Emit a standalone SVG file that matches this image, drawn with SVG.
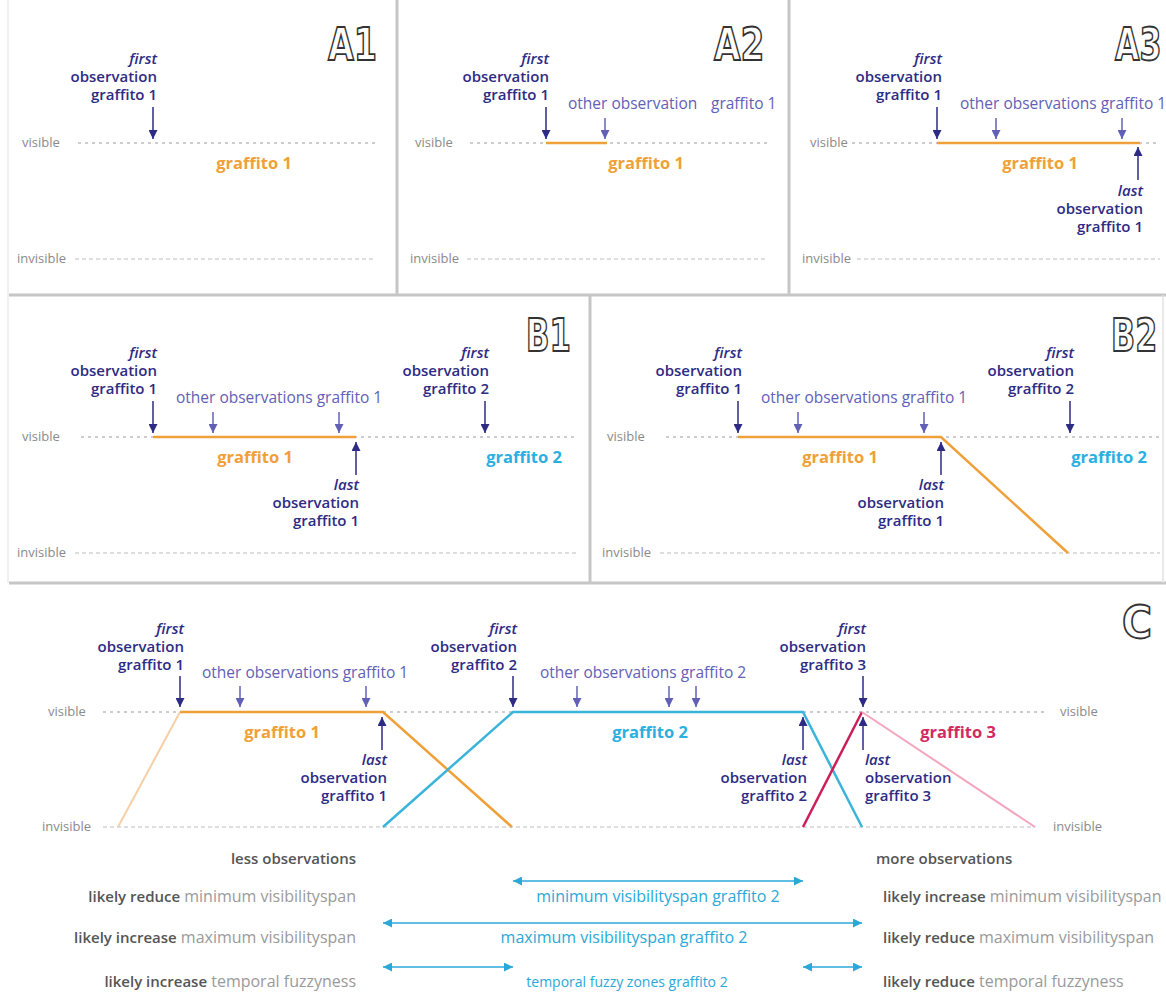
<svg xmlns="http://www.w3.org/2000/svg" width="1166" height="1001" viewBox="0 0 1166 1001">
<style>
text{font-family:"Open Sans","Noto Sans",sans-serif}
.nv{fill:#2e2b84;font-size:15px;font-weight:600}
.it{font-style:italic}
.r{text-anchor:end}
.m{text-anchor:middle}
.ot{fill:#6260b6;font-size:15.5px}
.lb{fill:#8a8a8a;font-size:13px}
.go{fill:#f0a038;font-size:16.5px;font-weight:700}
.gc{fill:#2aafe0;font-size:16.5px;font-weight:700}
.gr{fill:#d22a62;font-size:16.5px;font-weight:700}
.big{font-family:"DejaVu Sans",sans-serif;font-weight:700;font-size:44px;fill:#fff;stroke:#333;stroke-width:1.8}
.vis{stroke:#bdbdbd;stroke-width:1.5;stroke-dasharray:3 4;fill:none}
.inv{stroke:#bdbdbd;stroke-width:1.2;stroke-dasharray:4 3;fill:none}
.sep{stroke:#c6c6c6;stroke-width:3;fill:none}
.fa{stroke:#2e2b84;stroke-width:1.5;marker-end:url(#an)}
.oa{stroke:#6260b6;stroke-width:1.5;marker-end:url(#ao)}
.lo{stroke:#f0a038;stroke-width:2.5;fill:none}
.lc{stroke:#3ab4da;stroke-width:2.5;fill:none}
.bt{fill:#9a9a9a;font-size:16px}
.bb{fill:#555;font-weight:600;font-size:15px}
.ct{fill:#2aa8d8;font-size:16px}
.ca{stroke:#2aa8d8;stroke-width:1.5;marker-start:url(#ac);marker-end:url(#ac)}
</style>
<defs>
<marker id="an" viewBox="0 0 10 10" refX="10" refY="5" markerWidth="9" markerHeight="9" markerUnits="userSpaceOnUse" orient="auto"><path d="M0,0 L10,5 L0,10 z" fill="#2e2b84"/></marker>
<marker id="ao" viewBox="0 0 10 10" refX="10" refY="5" markerWidth="9" markerHeight="9" markerUnits="userSpaceOnUse" orient="auto"><path d="M0,0 L10,5 L0,10 z" fill="#6260b6"/></marker>
<marker id="ac" viewBox="0 0 10 10" refX="10" refY="5" markerWidth="9" markerHeight="9" markerUnits="userSpaceOnUse" orient="auto-start-reverse"><path d="M0,0 L10,5 L0,10 z" fill="#2aa8d8"/></marker>
</defs>
<rect width="1166" height="1001" fill="#fff"/>

<g id="frames">
<line class="sep" x1="9" y1="295" x2="1166" y2="295"/>
<line class="sep" x1="9" y1="583" x2="1166" y2="583"/>
<line class="sep" x1="397" y1="0" x2="397" y2="295"/>
<line class="sep" x1="789" y1="0" x2="789" y2="295"/>
<line class="sep" x1="590" y1="295" x2="590" y2="583"/>
<line x1="8" y1="0" x2="8" y2="583" stroke="#ececec" stroke-width="1.5"/>
<line x1="1163" y1="295" x2="1163" y2="583" stroke="#e2e2e2" stroke-width="1.5"/>
</g>

<g id="panel-A1">
<text class="big" transform="translate(328,60) scale(0.76,1)">A1</text>
<text class="lb" x="22" y="147">visible</text>
<text class="lb" x="17" y="263">invisible</text>
<line class="vis" x1="78" y1="143" x2="375" y2="143"/>
<line class="inv" x1="75" y1="259" x2="375" y2="259"/>
<text class="nv r it" x="157" y="64">first</text>
<text class="nv r" x="157" y="82">observation</text>
<text class="nv r" x="157" y="100">graffito 1</text>
<line class="fa" x1="153" y1="107" x2="153" y2="139"/>
<text class="go m" x="254" y="169">graffito 1</text>
</g>

<g id="panel-A2">
<text class="big" transform="translate(714,60) scale(0.78,1)">A2</text>
<text class="lb" x="415" y="147">visible</text>
<text class="lb" x="410" y="263">invisible</text>
<line class="vis" x1="470" y1="143" x2="767" y2="143"/>
<line class="inv" x1="467" y1="259" x2="767" y2="259"/>
<line class="lo" x1="546" y1="143" x2="607" y2="143"/>
<text class="nv r it" x="549" y="64">first</text>
<text class="nv r" x="549" y="82">observation</text>
<text class="nv r" x="549" y="100">graffito 1</text>
<line class="fa" x1="546" y1="107" x2="546" y2="139"/>
<text class="ot" x="568" y="109">other observation</text>
<text class="ot" x="711" y="109">graffito 1</text>
<line class="oa" x1="605" y1="118" x2="605" y2="139"/>
<text class="go m" x="646" y="169">graffito 1</text>
</g>

<g id="panel-A3">
<text class="big" transform="translate(1115,60) scale(0.72,1)">A3</text>
<text class="lb" x="810" y="147">visible</text>
<text class="lb" x="802" y="263">invisible</text>
<line class="vis" x1="852" y1="143" x2="1160" y2="143"/>
<line class="inv" x1="857" y1="259" x2="1160" y2="259"/>
<line class="lo" x1="937" y1="143" x2="1140" y2="143"/>
<text class="nv r it" x="942" y="64">first</text>
<text class="nv r" x="942" y="82">observation</text>
<text class="nv r" x="942" y="100">graffito 1</text>
<line class="fa" x1="937" y1="107" x2="937" y2="139"/>
<text class="ot" x="960" y="109">other observations graffito 1</text>
<line class="oa" x1="996" y1="118" x2="996" y2="139"/>
<line class="oa" x1="1122" y1="118" x2="1122" y2="139"/>
<line class="fa" x1="1138" y1="180" x2="1138" y2="147"/>
<text class="nv r it" x="1143" y="196">last</text>
<text class="nv r" x="1143" y="214">observation</text>
<text class="nv r" x="1143" y="232">graffito 1</text>
<text class="go m" x="1040" y="169">graffito 1</text>
</g>

<g id="panel-B1">
<text class="big" transform="translate(526,351) scale(0.7,1)">B1</text>
<text class="lb" x="22" y="441">visible</text>
<text class="lb" x="17" y="557">invisible</text>
<line class="vis" x1="81" y1="437" x2="576" y2="437"/>
<line class="inv" x1="75" y1="553" x2="576" y2="553"/>
<line class="lo" x1="153" y1="437" x2="356" y2="437"/>
<text class="nv r it" x="157" y="358">first</text>
<text class="nv r" x="157" y="376">observation</text>
<text class="nv r" x="157" y="394">graffito 1</text>
<line class="fa" x1="153" y1="401" x2="153" y2="433"/>
<text class="ot" x="176" y="403">other observations graffito 1</text>
<line class="oa" x1="213" y1="412" x2="213" y2="433"/>
<line class="oa" x1="339" y1="412" x2="339" y2="433"/>
<text class="go m" x="255" y="463">graffito 1</text>
<line class="fa" x1="356" y1="475" x2="356" y2="442"/>
<text class="nv r it" x="359" y="490">last</text>
<text class="nv r" x="359" y="508">observation</text>
<text class="nv r" x="359" y="526">graffito 1</text>
<text class="nv r it" x="489" y="358">first</text>
<text class="nv r" x="489" y="376">observation</text>
<text class="nv r" x="489" y="394">graffito 2</text>
<line class="fa" x1="485" y1="401" x2="485" y2="433"/>
<text class="gc m" x="524" y="463">graffito 2</text>
</g>

<g id="panel-B2">
<text class="big" transform="translate(1111,351) scale(0.72,1)">B2</text>
<text class="lb" x="607" y="441">visible</text>
<text class="lb" x="602" y="557">invisible</text>
<line class="vis" x1="666" y1="437" x2="1160" y2="437"/>
<line class="inv" x1="660" y1="553" x2="1160" y2="553"/>
<polyline class="lo" points="738,437 941,437 1068,553"/>
<text class="nv r it" x="742" y="358">first</text>
<text class="nv r" x="742" y="376">observation</text>
<text class="nv r" x="742" y="394">graffito 1</text>
<line class="fa" x1="738" y1="401" x2="738" y2="433"/>
<text class="ot" x="761" y="403">other observations graffito 1</text>
<line class="oa" x1="798" y1="412" x2="798" y2="433"/>
<line class="oa" x1="924" y1="412" x2="924" y2="433"/>
<text class="go m" x="840" y="463">graffito 1</text>
<line class="fa" x1="941" y1="475" x2="941" y2="442"/>
<text class="nv r it" x="944" y="490">last</text>
<text class="nv r" x="944" y="508">observation</text>
<text class="nv r" x="944" y="526">graffito 1</text>
<text class="nv r it" x="1074" y="358">first</text>
<text class="nv r" x="1074" y="376">observation</text>
<text class="nv r" x="1074" y="394">graffito 2</text>
<line class="fa" x1="1070" y1="401" x2="1070" y2="433"/>
<text class="gc m" x="1109" y="463">graffito 2</text>
</g>

<g id="panel-C">
<text class="big" transform="translate(1122,638) scale(0.93,1)">C</text>
<text class="lb" x="48" y="716">visible</text>
<text class="lb" x="42" y="831">invisible</text>
<text class="lb" x="1060" y="716">visible</text>
<text class="lb" x="1053" y="831">invisible</text>
<line class="vis" x1="103" y1="712" x2="1048" y2="712"/>
<line class="inv" x1="103" y1="827" x2="1035" y2="827"/>
</g>

<g id="connectors">
<line x1="118" y1="827" x2="180" y2="712" stroke="#f6cfa6" stroke-width="2"/>
<polyline class="lo" points="180,712 383,712 512,827"/>
<polyline class="lc" points="383,827 513,712 803,712 862,827"/>
<line x1="803" y1="827" x2="862" y2="712" stroke="#cc1f5a" stroke-width="2.5"/>
<line x1="862" y1="712" x2="1035" y2="827" stroke="#f2a6bd" stroke-width="2"/>
</g>

<g id="graffito1-C">
<text class="nv r it" x="184" y="634">first</text>
<text class="nv r" x="184" y="652">observation</text>
<text class="nv r" x="184" y="670">graffito 1</text>
<line class="fa" x1="180" y1="676" x2="180" y2="707"/>
<text class="ot" x="202" y="678">other observations graffito 1</text>
<line class="oa" x1="240" y1="686" x2="240" y2="707"/>
<line class="oa" x1="366" y1="686" x2="366" y2="707"/>
<text class="go m" x="282" y="738">graffito 1</text>
<line class="fa" x1="382" y1="750" x2="382" y2="717"/>
<text class="nv r it" x="387" y="765">last</text>
<text class="nv r" x="387" y="783">observation</text>
<text class="nv r" x="387" y="801">graffito 1</text>
</g>

<g id="graffito2-C">
<text class="nv r it" x="517" y="634">first</text>
<text class="nv r" x="517" y="652">observation</text>
<text class="nv r" x="517" y="670">graffito 2</text>
<line class="fa" x1="513" y1="676" x2="513" y2="707"/>
<text class="ot" x="540" y="678">other observations graffito 2</text>
<line class="oa" x1="577" y1="686" x2="577" y2="707"/>
<line class="oa" x1="669" y1="686" x2="669" y2="707"/>
<line class="oa" x1="696" y1="686" x2="696" y2="707"/>
<text class="gc m" x="650" y="738">graffito 2</text>
<line class="fa" x1="803" y1="750" x2="803" y2="717"/>
<text class="nv r it" x="807" y="765">last</text>
<text class="nv r" x="807" y="783">observation</text>
<text class="nv r" x="807" y="801">graffito 2</text>
</g>

<g id="graffito3-C">
<text class="nv r it" x="866" y="634">first</text>
<text class="nv r" x="866" y="652">observation</text>
<text class="nv r" x="866" y="670">graffito 3</text>
<line class="fa" x1="863" y1="676" x2="863" y2="707"/>
<text class="gr m" x="958" y="738">graffito 3</text>
<line class="fa" x1="863" y1="750" x2="863" y2="717"/>
<text class="nv it" x="865" y="765">last</text>
<text class="nv" x="865" y="783">observation</text>
<text class="nv" x="865" y="801">graffito 3</text>
</g>

<g id="legend">
<text class="bt r" x="356" y="864"><tspan class="bb">less observations</tspan></text>
<text class="bt" x="876" y="864"><tspan class="bb">more observations</tspan></text>
<text class="bt r" x="356" y="902"><tspan class="bb">likely reduce</tspan> minimum visibilityspan</text>
<text class="bt r" x="356" y="943"><tspan class="bb">likely increase</tspan> maximum visibilityspan</text>
<text class="bt r" x="356" y="987"><tspan class="bb">likely increase</tspan> temporal fuzzyness</text>
<text class="bt" x="883" y="902"><tspan class="bb">likely increase</tspan> minimum visibilityspan</text>
<text class="bt" x="883" y="943"><tspan class="bb">likely reduce</tspan> maximum visibilityspan</text>
<text class="bt" x="883" y="987"><tspan class="bb">likely reduce</tspan> temporal fuzzyness</text>
<line class="ca" x1="513" y1="881" x2="803" y2="881"/>
<line class="ca" x1="383" y1="923" x2="862" y2="923"/>
<line class="ca" x1="383" y1="967" x2="513" y2="967"/>
<line class="ca" x1="803" y1="967" x2="862" y2="967"/>
<text class="ct m" x="658" y="902">minimum visibilityspan graffito 2</text>
<text class="ct m" x="624" y="943">maximum visibilityspan graffito 2</text>
<text class="ct m" x="627" y="987" style="font-size:14px">temporal fuzzy zones graffito 2</text>
</g>
</svg>
